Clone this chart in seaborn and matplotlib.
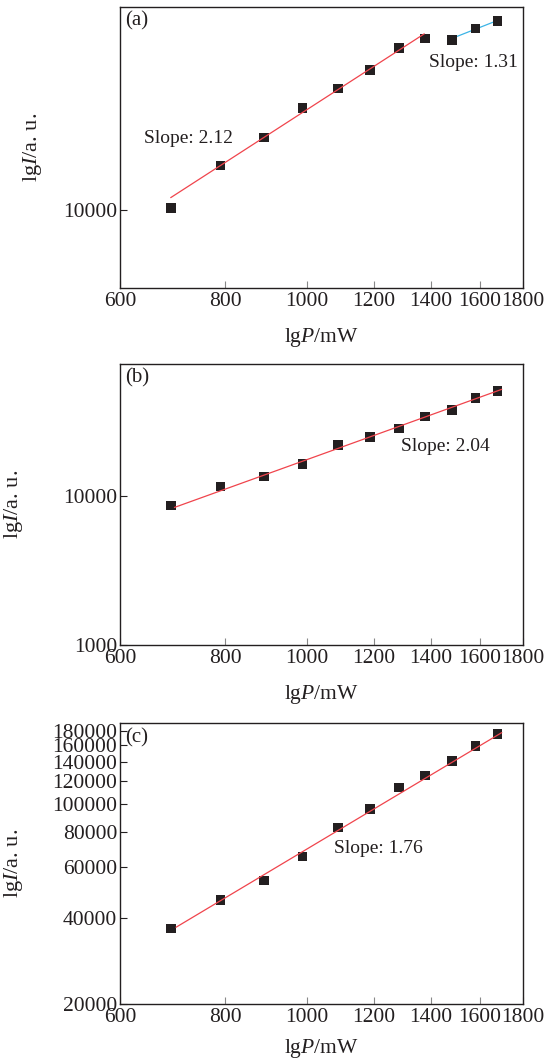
"""
Log-log plots of intensity vs pump power, three panels with fitted slopes
"""

import numpy as np
import pandas as pd
import matplotlib
matplotlib.use("Agg")
import matplotlib.pyplot as plt
from matplotlib.ticker import NullLocator
import seaborn as sns

# Data
power = [690, 789, 888, 987, 1088, 1187, 1284, 1378, 1485, 1583, 1681]

intensity_a = [10180, 14910, 19160, 24940, 29730, 35150, 42800, 46520, 45860, 50880, 54370]
intensity_b = [8610, 11540, 13460, 16370, 21920, 24800, 28180, 33900, 37570, 44990, 50330]
intensity_c = [36700, 46260, 54030, 65580, 82660, 96050, 114100, 125700, 141100, 159300, 175500]

# fitted lines (end points)
fit_a_x = [689, 1376]
fit_a_y = [11195, 48500]
fit_a2_x = [1485, 1681]
fit_a2_y = [46600, 54700]
fit_b_x = [696, 1700]
fit_b_y = [8352, 51670]
fit_c_x = [699, 1700]
fit_c_y = [37070, 177300]

slope_labels = ["Slope: 2.12", "Slope: 1.31", "Slope: 2.04", "Slope: 1.76"]
panel_labels = ["(a)", "(b)", "(c)"]

x_ticks = [600, 800, 1000, 1200, 1400, 1600, 1800]
y_ticks_a = [10000]
y_ticks_b = [1000, 10000]
y_ticks_c = [20000, 40000, 60000, 80000, 100000, 120000, 140000, 160000, 180000]

sns.set_style("ticks")
plt.rcParams["font.family"] = ["Liberation Serif", "DejaVu Serif"]
plt.rcParams["mathtext.fontset"] = "custom"
plt.rcParams["mathtext.rm"] = "Liberation Serif"
plt.rcParams["mathtext.it"] = "Liberation Serif:italic"

text_col = "#231f20"
red = "#f0444c"
blue = "#3cb4e6"
fs = 15.5

fig = plt.figure(figsize=(5.5, 10.6), dpi=100)
left, width = 0.2182, 0.7322
ax_a = fig.add_axes([left, 0.7286, width, 0.2645])
ax_b = fig.add_axes([left, 0.3915, width, 0.2648])
ax_c = fig.add_axes([left, 0.0528, width, 0.2648])

panels = [
    (ax_a, intensity_a, (5000, 61500), y_ticks_a, -0.189, 11),
    (ax_b, intensity_b, (1000, 76000), y_ticks_b, -0.236, 11),
    (ax_c, intensity_c, (20000, 191000), y_ticks_c, -0.236, 7),
]

for i, (ax, vals, ylim, yt, ylab_x, xpad) in enumerate(panels):
    df = pd.DataFrame({"power": power, "intensity": vals})
    ax.set_xscale("log")
    ax.set_yscale("log")
    sns.scatterplot(data=df, x="power", y="intensity", marker="s", s=48,
                    color=text_col, edgecolor="none", ax=ax, zorder=3)
    ax.set_xlim(600, 1800)
    ax.set_ylim(*ylim)
    ax.set_xticks(x_ticks, labels=[str(t) for t in x_ticks])
    ax.set_yticks(yt, labels=[str(t) for t in yt])
    ax.xaxis.set_minor_locator(NullLocator())
    ax.yaxis.set_minor_locator(NullLocator())
    ax.tick_params(axis="both", direction="in", length=5, width=0.8,
                   labelsize=fs, labelcolor=text_col, pad=3)
    ax.tick_params(axis="x", color="#888888")
    ax.tick_params(axis="y", color=text_col, pad=2)
    for sp in ax.spines.values():
        sp.set_linewidth(1.0)
        sp.set_color(text_col)
    ax.set_xlabel(r"lg$P$/mW", fontsize=fs, color=text_col, labelpad=xpad)
    ax.set_ylabel(r"lg$I$/a. u.", fontsize=fs + 0.5, color=text_col)
    ax.yaxis.set_label_coords(ylab_x, 0.5)
    ax.text(0.012, 0.95, panel_labels[i], transform=ax.transAxes,
            fontsize=15, color=text_col, ha="left", va="center")

# fit lines
sns.lineplot(x=fit_a_x, y=fit_a_y, color=red, lw=0.9, ax=ax_a, zorder=4)
sns.lineplot(x=fit_a2_x, y=fit_a2_y, color=blue, lw=0.9, ax=ax_a, zorder=2)
sns.lineplot(x=fit_b_x, y=fit_b_y, color=red, lw=0.9, ax=ax_b, zorder=4)
sns.lineplot(x=fit_c_x, y=fit_c_y, color=red, lw=0.9, ax=ax_c, zorder=4)

# slope annotations
ax_a.text(0.060, 0.533, slope_labels[0], transform=ax_a.transAxes,
          fontsize=14, color=text_col, va="center")
ax_a.text(0.768, 0.802, slope_labels[1], transform=ax_a.transAxes,
          fontsize=14, color=text_col, va="center")
ax_b.text(0.6975, 0.7065, slope_labels[2], transform=ax_b.transAxes,
          fontsize=14, color=text_col, va="center")
ax_c.text(0.5317, 0.5547, slope_labels[3], transform=ax_c.transAxes,
          fontsize=14, color=text_col, va="center")

fig.savefig("out.png", dpi=100)
